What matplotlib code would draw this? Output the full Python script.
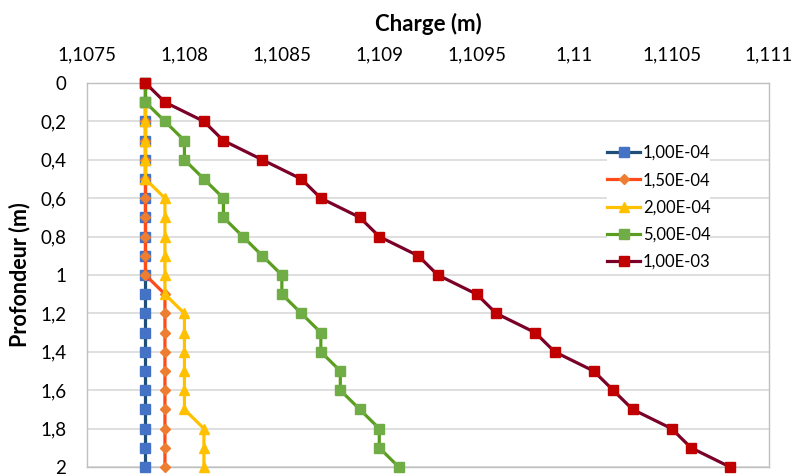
import matplotlib
matplotlib.use("Agg")
import matplotlib.pyplot as plt
from matplotlib.ticker import FixedLocator, FuncFormatter

plt.rcParams['font.family'] = ['Lato', 'DejaVu Sans']

depth = [0, 0.1, 0.2, 0.3, 0.4, 0.5, 0.6, 0.7, 0.8, 0.9, 1.0,
         1.1, 1.2, 1.3, 1.4, 1.5, 1.6, 1.7, 1.8, 1.9, 2.0]

s_1e4 = [1.1078] * 21
s_15e4 = [1.1078] * 11 + [1.1079] * 10
s_2e4 = [1.1078] * 6 + [1.1079] * 6 + [1.1080] * 6 + [1.1081] * 3
s_5e4 = [1.1078, 1.1078, 1.1079, 1.1080, 1.1080, 1.1081, 1.1082, 1.1082,
         1.1083, 1.1084, 1.1085, 1.1085, 1.1086, 1.1087, 1.1087, 1.1088,
         1.1088, 1.1089, 1.1090, 1.1090, 1.1091]
s_1e3 = [1.1078, 1.1079, 1.1081, 1.1082, 1.1084, 1.1086, 1.1087, 1.1089,
         1.1090, 1.1092, 1.1093, 1.1095, 1.1096, 1.1098, 1.1099, 1.1101,
         1.1102, 1.1103, 1.1105, 1.1106, 1.1108]

labels = ["1,00E-04", "1,50E-04", "2,00E-04", "5,00E-04", "1,00E-03"]
xticks = [1.1075, 1.108, 1.1085, 1.109, 1.1095, 1.11, 1.1105, 1.111]
yticks = [0, 0.2, 0.4, 0.6, 0.8, 1.0, 1.2, 1.4, 1.6, 1.8, 2.0]

fig = plt.figure(figsize=(7.96, 4.75), dpi=100)
ax = fig.add_axes([87/796, 1 - 467/475, (769-87)/796, (467-83)/475])

styles = [
    dict(color="#1F4E79", marker="s", mfc="#4472C4", mec="#4472C4", ms=7.5),
    dict(color="#FF4A1A", marker="D", mfc="#ED7D31", mec="#ED7D31", ms=5.5),
    dict(color="#FFC000", marker="^", mfc="#FFC000", mec="#FFC000", ms=7.5),
    dict(color="#5A9E1F", marker="s", mfc="#70AD47", mec="#70AD47", ms=7.5),
    dict(color="#7B0028", marker="s", mfc="#C00000", mec="#C00000", ms=7.5),
]
series = [s_1e4, s_15e4, s_2e4, s_5e4, s_1e3]
for s, lab, st in zip(series, labels, styles):
    ax.plot(s, depth, label=lab, lw=2.3, clip_on=False, zorder=3, **st)

ax.set_xlim(1.1075, 1.111)
ax.set_ylim(2, 0)
ax.xaxis.tick_top()
ax.xaxis.set_label_position('top')
ax.xaxis.set_major_locator(FixedLocator(xticks))
ax.yaxis.set_major_locator(FixedLocator(yticks))

def fmt(v, pos):
    s = ("%.4f" % v).rstrip('0').rstrip('.')
    return s.replace('.', ',')

ax.xaxis.set_major_formatter(FuncFormatter(fmt))
ax.yaxis.set_major_formatter(FuncFormatter(fmt))
ax.tick_params(length=0, labelsize=13.5, colors="#000000")
ax.tick_params(axis='x', pad=14)
ax.tick_params(axis='y', pad=15)

ax.grid(axis='y', color="#D9D9D9", lw=1.2, zorder=0)
ax.set_axisbelow(True)
for sp in ax.spines.values():
    sp.set_color("#BFBFBF")
    sp.set_linewidth(1.0)

ax.set_xlabel("Charge (m)", fontsize=16, fontweight='bold', labelpad=6)
ax.set_ylabel("Profondeur (m)", fontsize=15.5, fontweight='bold', labelpad=6)
ax.xaxis.set_label_coords(0.5, 1 + (83 - 24) / 384)
ax.yaxis.set_label_coords(-(87 - 20) / 682, 0.5)
ax.xaxis.label.set_va('center')
ax.yaxis.label.set_va('center')

leg = ax.legend(loc='upper left', bbox_to_anchor=((607 - 87) / 682, 1 - (145 - 83) / 384),
                frameon=True, fontsize=12, handlelength=2.0, handletextpad=0.15,
                labelspacing=0.67, borderaxespad=0, borderpad=0)
leg.get_frame().set_edgecolor('none')
leg.get_frame().set_facecolor('white')
leg.get_frame().set_alpha(1)

fig.savefig("out.png", dpi=100)
